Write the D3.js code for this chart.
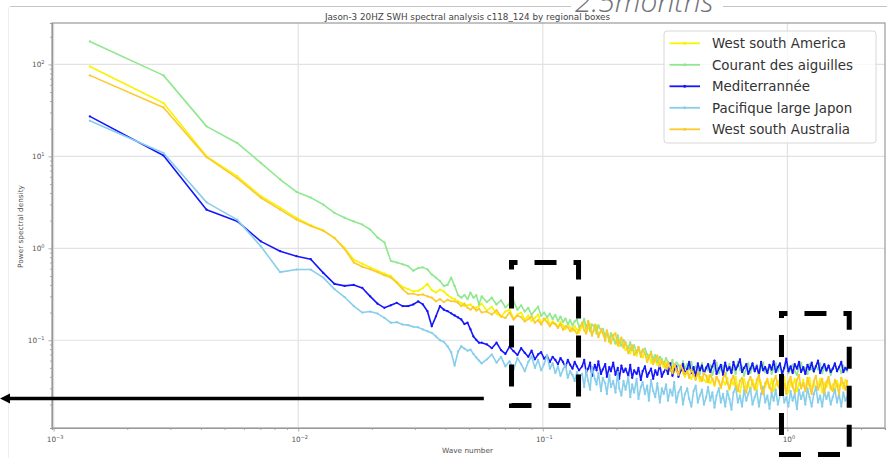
<!DOCTYPE html>
<html><head><meta charset="utf-8">
<script src="https://cdn.jsdelivr.net/npm/d3@7"></script>
<style>
body{margin:0;background:#fff;}
svg{display:block;font-family:"DejaVu Sans",sans-serif;}
</style>
</head><body>
<svg id="chart" width="887" height="458"></svg>
<script>
// ---------------- data ----------------
const titleText = "Jason-3 20HZ SWH spectral analysis c118_124 by regional boxes";
const xLabelText = "Wave number";
const yLabelText = "Power spectral density";
const noteText = "2.5months";

const seriesNames = ["West south America", "Courant des aiguilles", "Mediterrannée", "Pacifique large Japon", "West south Australia"];
const seriesColors = ["#f7f400", "#8fe88f", "#1515ff", "#87ceeb", "#fcc92e"];

const xTickExponents = [-3, -2, -1, 0];
const yTickExponents = [-1, 0, 1, 2];

// frequency bins (index of the FFT bin) and bin width
const waveStep = 1 / 711;
const waveIndex = [1,2,3,4,5,6,7,8,9,10,11,12,13,14,15,16,17,18,19,20,21,22,23,24,25,26,27,28,29,30,31,32,33,34,35,36,37,38,39,40,
42,44,46,48,50,52,54,56,58,60,62,64,66,68,70,72,74,76,78,80,82,84,86,88,90,92,94,96,98,100,
103,105,107,109,111,113,116,118,120,123,
125,128,130,133,135,138,141,144,146,149,
152,155,159,162,165,168,172,175,179,182,
186,190,193,197,201,205,209,214,218,222,
227,231,236,241,245,250,255,261,266,271,
277,282,288,294,300,306,312,318,324,331,
337,344,351,358,365,373,380,388,396,404,
412,420,428,437,446,455,464,473,483,492,
502,512,523,533,544,555,566,577,589,601,
613,625,637,650,663,677,690,704,718,733,
747,762,778,793,809,826,842,859,876,894,
912,930,949,968,987,1007,1027,1048,1069,1090,
1112,1135,1157,1181,1204,1228,1248];

const westSouthAmerica = [95,38,10,6.1,3.7,2.77,2.14,1.78,1.57,1.29,
1.01,0.75,0.68,0.62,0.57,0.53,0.50,0.43,0.38,0.36,
0.34,0.345,0.37,0.41,0.35,0.33,0.356,0.34,0.31,0.29,
0.28,0.265,0.255,0.235,0.24,0.245,0.225,0.226,0.235,0.25,
0.21,0.23,0.195,0.18,0.205,0.215,0.172,0.19,0.2,0.168,
0.185,0.162,0.175,0.19,0.155,0.165,0.178,0.148,0.16,0.152,
0.14,0.158,0.145,0.132,0.15,0.138,0.126,0.142,0.131,0.12,
0.142,0.158,0.121,0.133,0.151,0.117,0.129,0.145,0.112,0.126,
0.118,0.104,0.124,0.095,0.109,0.115,0.091,0.102,0.086,0.099,
0.09,0.078,0.087,0.072,0.083,0.076,0.068,0.08,0.071,0.065,
0.074,0.062,0.069,0.057,0.066,0.06,0.054,0.063,0.056,0.051,
0.057,0.05,0.046,0.053,0.045,0.049,0.043,0.051,0.044,0.04,
0.047,0.041,0.038,0.044,0.039,0.042,0.036,0.04,0.037,0.035,
0.041,0.034,0.038,0.032,0.04,0.035,0.03,0.037,0.033,0.039,
0.029,0.036,0.033,0.04,0.03,0.027,0.035,0.038,0.031,0.034,
0.028,0.037,0.032,0.029,0.039,0.034,0.027,0.031,0.036,0.03,
0.038,0.028,0.033,0.036,0.029,0.032,0.04,0.03,0.027,0.035,
0.032,0.038,0.028,0.034,0.03,0.037,0.029,0.033,0.039,0.028,
0.035,0.03,0.033,0.038,0.027,0.034,0.031,0.036,0.029,0.033,
0.028,0.036,0.031,0.034,0.03,0.037,0.033];

const courantAiguilles = [178,76,21.2,14,8.5,5.6,4.1,3.56,2.99,2.43,
2.15,1.96,1.81,1.60,1.31,1.16,0.73,0.70,0.67,0.64,
0.57,0.61,0.62,0.59,0.52,0.48,0.44,0.39,0.40,0.48,
0.39,0.31,0.29,0.31,0.28,0.33,0.29,0.31,0.245,0.30,
0.26,0.29,0.245,0.272,0.228,0.25,0.265,0.215,0.24,0.205,
0.225,0.19,0.21,0.232,0.185,0.2,0.178,0.195,0.17,0.188,
0.162,0.18,0.158,0.172,0.15,0.165,0.145,0.16,0.168,0.14,
0.152,0.171,0.136,0.16,0.125,0.148,0.139,0.118,0.145,0.128,
0.133,0.112,0.126,0.098,0.119,0.104,0.093,0.113,0.097,0.087,
0.101,0.09,0.082,0.095,0.078,0.088,0.073,0.084,0.069,0.077,
0.081,0.07,0.064,0.075,0.061,0.069,0.058,0.066,0.062,0.055,
0.064,0.058,0.052,0.061,0.049,0.057,0.054,0.047,0.059,0.05,
0.055,0.048,0.058,0.045,0.052,0.049,0.043,0.056,0.046,0.051,
0.047,0.054,0.042,0.05,0.057,0.044,0.049,0.053,0.041,0.048,
0.055,0.045,0.05,0.043,0.058,0.047,0.052,0.041,0.049,0.056,
0.044,0.051,0.047,0.054,0.042,0.05,0.057,0.045,0.048,0.053,
0.043,0.049,0.056,0.046,0.052,0.041,0.05,0.055,0.044,0.048,
0.054,0.046,0.042,0.051,0.057,0.047,0.05,0.043,0.055,0.049,
0.045,0.052,0.048,0.056,0.044,0.05,0.046,0.053,0.042,0.049,
0.055,0.047,0.051,0.044,0.053,0.048,0.046];

const mediterranee = [27.2,10.2,2.63,1.97,1.19,0.93,0.82,0.76,0.54,0.41,
0.39,0.40,0.37,0.30,0.25,0.225,0.24,0.255,0.235,0.235,
0.245,0.265,0.245,0.207,0.142,0.182,0.235,0.215,0.207,0.196,
0.186,0.177,0.168,0.15,0.155,0.131,0.11,0.101,0.094,0.094,
0.09,0.082,0.094,0.078,0.071,0.085,0.076,0.069,0.082,0.073,
0.066,0.077,0.062,0.07,0.074,0.063,0.068,0.058,0.066,0.061,
0.055,0.064,0.058,0.051,0.061,0.054,0.049,0.058,0.052,0.047,
0.052,0.061,0.045,0.049,0.057,0.041,0.054,0.047,0.059,0.043,
0.048,0.055,0.04,0.051,0.046,0.057,0.042,0.05,0.038,0.053,
0.045,0.049,0.041,0.054,0.039,0.047,0.043,0.05,0.037,0.046,
0.052,0.04,0.044,0.049,0.038,0.047,0.042,0.054,0.04,0.045,
0.05,0.043,0.056,0.041,0.048,0.052,0.04,0.047,0.055,0.043,
0.049,0.058,0.044,0.051,0.041,0.056,0.047,0.053,0.043,0.05,
0.055,0.045,0.052,0.06,0.043,0.049,0.054,0.042,0.057,0.047,
0.051,0.044,0.058,0.048,0.053,0.062,0.045,0.05,0.055,0.043,
0.049,0.056,0.046,0.052,0.042,0.058,0.047,0.051,0.044,0.054,
0.048,0.059,0.045,0.051,0.056,0.043,0.05,0.063,0.046,0.052,
0.044,0.055,0.049,0.058,0.045,0.051,0.043,0.054,0.048,0.057,
0.046,0.052,0.06,0.044,0.05,0.055,0.047,0.053,0.045,0.049,
0.056,0.046,0.051,0.058,0.045,0.05,0.048];

const pacifiqueJapon = [24.4,10.9,3.16,2.05,1.05,0.55,0.587,0.587,0.48,0.36,
0.295,0.235,0.20,0.205,0.195,0.175,0.155,0.157,0.148,0.146,
0.14,0.138,0.131,0.125,0.12,0.11,0.10,0.096,0.086,0.074,
0.053,0.075,0.086,0.081,0.077,0.079,0.071,0.065,0.06,0.056,
0.062,0.07,0.057,0.066,0.052,0.059,0.048,0.064,0.055,0.046,
0.058,0.067,0.05,0.061,0.047,0.055,0.069,0.049,0.056,0.044,
0.052,0.041,0.048,0.054,0.039,0.046,0.042,0.036,0.045,0.04,
0.043,0.031,0.047,0.036,0.029,0.051,0.038,0.033,0.044,0.028,
0.039,0.034,0.026,0.042,0.031,0.036,0.027,0.045,0.03,0.025,
0.036,0.029,0.04,0.024,0.033,0.027,0.038,0.023,0.031,0.035,
0.026,0.032,0.022,0.037,0.028,0.024,0.034,0.021,0.03,0.026,
0.033,0.022,0.029,0.025,0.035,0.021,0.027,0.031,0.02,0.026,
0.03,0.023,0.019,0.028,0.032,0.021,0.025,0.029,0.02,0.024,
0.031,0.022,0.027,0.0185,0.025,0.03,0.021,0.026,0.019,0.028,
0.023,0.0176,0.027,0.031,0.021,0.025,0.019,0.029,0.022,0.026,
0.03,0.02,0.024,0.028,0.019,0.026,0.031,0.021,0.025,0.018,
0.027,0.022,0.029,0.02,0.025,0.032,0.021,0.024,0.019,0.028,
0.022,0.026,0.0178,0.029,0.023,0.027,0.02,0.03,0.024,0.019,
0.026,0.031,0.021,0.025,0.019,0.028,0.023,0.027,0.02,0.024,
0.029,0.021,0.026,0.019,0.027,0.022,0.024];

const westSouthAustralia = [76,34,9.8,5.8,3.55,2.63,2.05,1.75,1.55,1.3,
0.98,0.70,0.63,0.59,0.55,0.51,0.48,0.42,0.36,0.32,
0.32,0.31,0.315,0.30,0.29,0.265,0.28,0.26,0.275,0.265,
0.265,0.255,0.235,0.25,0.225,0.215,0.23,0.21,0.22,0.20,
0.205,0.19,0.212,0.182,0.175,0.2,0.168,0.185,0.178,0.16,
0.17,0.182,0.155,0.165,0.148,0.172,0.158,0.142,0.155,0.149,
0.136,0.15,0.13,0.142,0.138,0.125,0.135,0.128,0.118,0.13,
0.155,0.128,0.118,0.162,0.135,0.112,0.148,0.139,0.108,0.131,
0.122,0.098,0.128,0.105,0.092,0.113,0.119,0.088,0.096,0.107,
0.083,0.095,0.072,0.081,0.088,0.069,0.075,0.084,0.066,0.079,
0.071,0.058,0.064,0.073,0.055,0.061,0.068,0.052,0.06,0.057,
0.049,0.058,0.051,0.044,0.055,0.048,0.042,0.053,0.047,0.043,
0.046,0.039,0.048,0.042,0.037,0.045,0.04,0.036,0.044,0.041,
0.035,0.042,0.038,0.033,0.04,0.036,0.031,0.039,0.043,0.034,
0.03,0.037,0.041,0.032,0.028,0.036,0.039,0.031,0.027,0.035,
0.04,0.033,0.029,0.037,0.042,0.03,0.026,0.034,0.038,0.031,
0.028,0.036,0.041,0.032,0.029,0.038,0.033,0.026,0.035,0.04,
0.031,0.027,0.037,0.042,0.03,0.034,0.028,0.039,0.032,0.026,
0.036,0.041,0.029,0.033,0.038,0.027,0.035,0.04,0.031,0.028,
0.037,0.032,0.026,0.039,0.034,0.029,0.036];

const seriesValues = [westSouthAmerica, courantAiguilles, mediterranee, pacifiqueJapon, westSouthAustralia];

// hand-drawn annotations, given in data coordinates (wave number, PSD)
const dashedBoxes = [
  {kLow: 0.0745, kHigh: 0.140, vHigh: 0.70, vLow: 0.0195},
  {kLow: 0.946, kHigh: 1.79, vHigh: 0.195, vLow: 0.0057}
];
const arrowNote = {kStart: 0.0574, v: 0.0232};

// ---------------- chart ----------------
const W = 887, H = 458;
const plot = {left: 52, right: 885, top: 23, bottom: 428};
const svg = d3.select("#chart");

const series = seriesNames.map((name, i) => ({
  name, color: seriesColors[i],
  points: waveIndex.map((n, j) => ({k: n * waveStep, v: seriesValues[i][j]})).filter(p => p.v != null)
}));

function paddedLogDomain(vals) {
  const lo = Math.log10(d3.min(vals)), hi = Math.log10(d3.max(vals));
  const m = (hi - lo) * 0.05;
  return [Math.pow(10, lo - m), Math.pow(10, hi + m)];
}
const allK = waveIndex.map(n => n * waveStep);
const allV = seriesValues.flat();
const x = d3.scaleLog().domain(paddedLogDomain(allK)).range([plot.left, plot.right]);
const y = d3.scaleLog().domain(paddedLogDomain(allV)).range([plot.bottom, plot.top]);

// screenshot frame lines
svg.append("line").attr("x1", 10).attr("x2", W).attr("y1", 6.5).attr("y2", 6.5)
  .attr("stroke", "#c4c4c4").attr("stroke-width", 1);
svg.append("line").attr("x1", 8.5).attr("x2", 8.5).attr("y1", 6.5).attr("y2", H)
  .attr("stroke", "#eeeeee").attr("stroke-width", 1);

// grid
const xMajor = xTickExponents.map(e => Math.pow(10, e));
const yMajor = yTickExponents.map(e => Math.pow(10, e));
const grid = svg.append("g");
grid.selectAll("line.gx").data(xMajor).join("line")
  .attr("x1", d => x(d)).attr("x2", d => x(d)).attr("y1", plot.top).attr("y2", plot.bottom)
  .attr("stroke", "#e2e2e2").attr("stroke-width", 1.2);
grid.selectAll("line.gy").data(yMajor).join("line")
  .attr("y1", d => y(d)).attr("y2", d => y(d)).attr("x1", plot.left).attr("x2", plot.right)
  .attr("stroke", "#e2e2e2").attr("stroke-width", 1.2);

// clip
svg.append("defs").append("clipPath").attr("id", "clip").append("rect")
  .attr("x", plot.left).attr("y", plot.top).attr("width", plot.right - plot.left).attr("height", plot.bottom - plot.top);

const line = d3.line().x(d => x(d.k)).y(d => y(d.v));
const lines = svg.append("g").attr("clip-path", "url(#clip)");
series.forEach(s => {
  const g = lines.append("g");
  g.append("path").datum(s.points).attr("d", line)
    .attr("fill", "none").attr("stroke", s.color).attr("stroke-width", 1.6).attr("stroke-linejoin", "round");
  g.selectAll("circle").data(s.points).join("circle")
    .attr("cx", d => x(d.k)).attr("cy", d => y(d.v)).attr("r", 1.15).attr("fill", s.color);
});

// axes
const axisColor = "#9a9a9a";
const xAxis = svg.append("g").attr("transform", `translate(0,${plot.bottom})`)
  .call(d3.axisBottom(x).ticks(10, "").tickSize(2).tickFormat(""));
const yAxis = svg.append("g").attr("transform", `translate(${plot.left},0)`)
  .call(d3.axisLeft(y).ticks(10, "").tickSize(2).tickFormat(""));
[xAxis, yAxis].forEach(a => {
  a.selectAll("path").attr("stroke", axisColor).attr("stroke-width", 1.2);
  a.selectAll("line").attr("stroke", axisColor).attr("stroke-width", 0.8);
});
xAxis.selectAll(".tick").filter(d => xMajor.some(m => Math.abs(Math.log10(d) - Math.log10(m)) < 1e-6))
  .select("line").attr("y2", 3.5);
yAxis.selectAll(".tick").filter(d => yMajor.some(m => Math.abs(Math.log10(d) - Math.log10(m)) < 1e-6))
  .select("line").attr("x2", -3.5);
svg.append("rect").attr("x", plot.left).attr("y", plot.top)
  .attr("width", plot.right - plot.left).attr("height", plot.bottom - plot.top)
  .attr("fill", "none").attr("stroke", axisColor).attr("stroke-width", 1.2);

function powLabel(sel, e) {
  sel.append("tspan").text("10");
  sel.append("tspan").attr("dy", -3.2).attr("font-size", 5).text(e < 0 ? "\u2212" + (-e) : String(e));
}
xTickExponents.forEach(e => {
  const t = svg.append("text").attr("x", x(Math.pow(10, e)) + 1.5).attr("y", 441.8)
    .attr("text-anchor", "middle").attr("font-size", 7.3).attr("fill", "#555");
  powLabel(t, e);
});
yTickExponents.forEach(e => {
  const t = svg.append("text").attr("x", 44.5).attr("y", y(Math.pow(10, e)) + 2.6)
    .attr("text-anchor", "end").attr("font-size", 7.3).attr("fill", "#555");
  powLabel(t, e);
});

svg.append("text").attr("x", (plot.left + plot.right) / 2 - 1).attr("y", 452.5)
  .attr("text-anchor", "middle").attr("font-size", 7.3).attr("fill", "#555").text(xLabelText);
svg.append("text").attr("transform", `translate(22.5,${(plot.top + plot.bottom) / 2 + 1}) rotate(-90)`)
  .attr("text-anchor", "middle").attr("font-size", 7.3).attr("fill", "#555").text(yLabelText);

// "2.5months" note at the top (cut by the top edge, as in the source)
svg.append("rect").attr("x", 571).attr("y", 0).attr("width", 152).attr("height", 10).attr("fill", "#fff");
svg.append("text").attr("x", 575).attr("y", 11.5).attr("font-family", "'Open Sans', sans-serif")
  .attr("font-style", "italic").attr("font-weight", 300).attr("font-size", 30)
  .attr("fill", "#6f7278").text(noteText);

svg.append("text").attr("x", (plot.left + plot.right) / 2 - 1).attr("y", 19.5)
  .attr("text-anchor", "middle").attr("font-size", 8.8).attr("fill", "#444").text(titleText);

// legend
const lg = svg.append("g").attr("transform", "translate(664,31)");
lg.append("rect").attr("width", 212).attr("height", 112).attr("rx", 3)
  .attr("fill", "#fff").attr("fill-opacity", 0.8).attr("stroke", "#d8d8d8").attr("stroke-width", 1);
series.forEach((s, i) => {
  const cy = 12.3 + i * 21.5;
  lg.append("line").attr("x1", 5.5).attr("x2", 36).attr("y1", cy).attr("y2", cy)
    .attr("stroke", s.color).attr("stroke-width", 1.8);
  lg.append("circle").attr("cx", 20.7).attr("cy", cy).attr("r", 1.5).attr("fill", s.color);
  lg.append("text").attr("x", 48).attr("y", cy).attr("dy", "0.36em")
    .attr("font-size", 13.4).attr("fill", "#333").text(s.name);
});

// annotations
dashedBoxes.forEach(b => {
  svg.append("rect").attr("x", x(b.kLow)).attr("y", y(b.vHigh))
    .attr("width", x(b.kHigh) - x(b.kLow)).attr("height", y(b.vLow) - y(b.vHigh))
    .attr("fill", "none").attr("stroke", "#000").attr("stroke-width", 5)
    .attr("stroke-dasharray", "22 17").attr("stroke-dashoffset", 16);
});
const ay = y(arrowNote.v);
svg.append("line").attr("x1", x(arrowNote.kStart)).attr("x2", 7).attr("y1", ay).attr("y2", ay)
  .attr("stroke", "#000").attr("stroke-width", 3.6);
svg.append("path").attr("d", `M0,${ay} L10,${ay - 5} L10,${ay + 5} Z`).attr("fill", "#000");
</script>
</body></html>
